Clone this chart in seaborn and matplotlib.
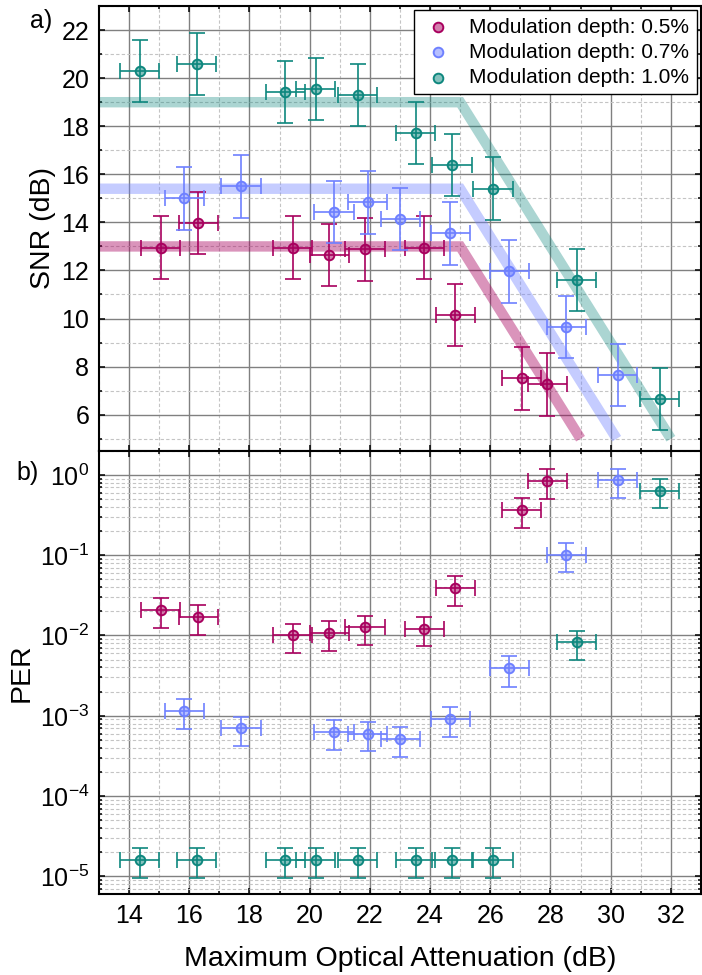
import numpy as np
import matplotlib
matplotlib.use("Agg")
import matplotlib.pyplot as plt
import matplotlib.ticker as mticker
from matplotlib.colors import to_rgba
import seaborn as sns

# data
att_05 = [15.05, 16.30, 19.44, 20.65, 21.84, 23.81, 24.84, 27.04, 27.90]
snr_05 = [12.95, 13.97, 12.95, 12.65, 12.88, 12.95, 10.15, 7.51, 7.26]
per_05 = [0.0209, 0.0170, 0.0100, 0.0108, 0.0126, 0.0121, 0.0393, 0.364, 0.835]
per_err_05 = [0.0084, 0.0068, 0.0040, 0.0043, 0.0050, 0.0048, 0.0157, 0.146, 0.33]

att_07 = [15.84, 17.72, 20.81, 21.93, 23.01, 24.67, 26.63, 28.52, 30.23]
snr_07 = [15.00, 15.50, 14.43, 14.83, 14.14, 13.54, 11.96, 9.64, 7.65]
per_07 = [1.15e-3, 7.0e-4, 6.3e-4, 6.0e-4, 5.2e-4, 9.1e-4, 3.9e-3, 0.101, 0.851]
per_err_07 = [4.6e-4, 2.8e-4, 2.5e-4, 2.4e-4, 2.1e-4, 3.6e-4, 1.6e-3, 0.040, 0.34]

att_10 = [14.36, 16.24, 19.19, 20.20, 21.60, 23.52, 24.73, 26.09, 28.87, 31.63]
snr_10 = [20.30, 20.58, 19.43, 19.54, 19.30, 17.71, 16.38, 15.40, 11.60, 6.65]
per_10 = [1.6e-5, 1.6e-5, 1.6e-5, 1.6e-5, 1.6e-5, 1.6e-5, 1.6e-5, 1.6e-5, 8.2e-3, 0.632]
per_err_10 = [6.4e-6, 6.4e-6, 6.4e-6, 6.4e-6, 6.4e-6, 6.4e-6, 6.4e-6, 6.4e-6, 3.3e-3, 0.25]

att_err = 0.65
snr_err = 1.3

# piecewise fits (flat, then -2 dB/dB)
fit_x_05 = [13.0, 25.0, 29.0]
fit_y_05 = [13.0, 13.0, 5.0]
fit_x_07 = [13.0, 25.0, 30.2]
fit_y_07 = [15.4, 15.4, 5.0]
fit_x_10 = [13.0, 25.0, 32.0]
fit_y_10 = [19.0, 19.0, 5.0]

labels = ["Modulation depth: 0.5%", "Modulation depth: 0.7%", "Modulation depth: 1.0%"]
colors = ["#a8005e", "#6e80ff", "#0e877e"]
fit_alpha = [0.42, 0.4, 0.35]

series = [
    (att_05, snr_05, per_05, per_err_05, fit_x_05, fit_y_05),
    (att_07, snr_07, per_07, per_err_07, fit_x_07, fit_y_07),
    (att_10, snr_10, per_10, per_err_10, fit_x_10, fit_y_10),
]

sns.set_style("ticks")
plt.rcParams.update({
    "font.family": ["Liberation Sans", "DejaVu Sans"],
    "mathtext.default": "regular",
    "axes.unicode_minus": False,
    "font.size": 18,
    "text.color": "black",
    "axes.labelcolor": "black",
    "xtick.color": "black",
    "ytick.color": "black",
})

fig = plt.figure(figsize=(7.02, 9.75), dpi=100)
ax1 = fig.add_axes([0.141, 0.5377, 0.8575, 0.4561])
ax2 = fig.add_axes([0.141, 0.0828, 0.8575, 0.4550])

for (att, snr, per, per_err, fx, fy), col, lab, fa in zip(series, colors, labels, fit_alpha):
    fill = to_rgba(col, 0.5)
    # fit line
    sns.lineplot(x=fx, y=fy, ax=ax1, color=col, alpha=fa, linewidth=7.5,
                 solid_capstyle="butt", solid_joinstyle="miter", legend=False,
                 sort=False, estimator=None, zorder=2)
    # SNR
    ax1.errorbar(att, snr, xerr=att_err, yerr=snr_err, fmt="none", ecolor=col,
                 elinewidth=1.2, capsize=5.5, capthick=1.2, zorder=3)
    sns.scatterplot(x=att, y=snr, ax=ax1, s=48, facecolor=fill, edgecolor=col,
                    linewidth=1.4, label=lab, zorder=4)
    # PER
    ax2.errorbar(att, per, xerr=att_err, yerr=per_err, fmt="none", ecolor=col,
                 elinewidth=1.2, capsize=5.5, capthick=1.2, zorder=3)
    sns.scatterplot(x=att, y=per, ax=ax2, s=48, facecolor=fill, edgecolor=col,
                    linewidth=1.4, zorder=4)

ax1.set_xlim(13, 33)
ax1.set_ylim(4.5, 23)
ax1.yaxis.set_major_locator(mticker.MultipleLocator(2))
ax1.yaxis.set_minor_locator(mticker.MultipleLocator(1))

ax2.set_yscale("log")
ax2.set_xlim(13, 33)
ax2.set_ylim(6e-6, 2)
ax2.yaxis.set_major_locator(mticker.LogLocator(base=10, numticks=10))
ax2.yaxis.set_minor_locator(mticker.LogLocator(base=10, subs=np.arange(2, 10), numticks=20))
ax2.yaxis.set_minor_formatter(mticker.NullFormatter())

for ax in (ax1, ax2):
    ax.xaxis.set_major_locator(mticker.MultipleLocator(2))
    ax.xaxis.set_minor_locator(mticker.MultipleLocator(1))
    ax.set_axisbelow(True)
    ax.grid(which="major", color="#808080", linewidth=1.0, linestyle="-")
    ax.grid(which="minor", color="#c4c4c4", linewidth=0.8, linestyle=(0, (3, 2)))
    ax.tick_params(which="both", direction="in", top=True, right=True,
                   width=1.1, colors="black", labelsize=18)
    ax.tick_params(which="major", length=4.5, pad=7)
    ax.tick_params(which="minor", length=2.3)
    for sp in ax.spines.values():
        sp.set_linewidth(1.5)
        sp.set_color("black")

ax1.tick_params(labelbottom=False)
ax1.set_xlabel("")
ax1.set_ylabel("SNR (dB)", fontsize=20.5)
ax2.set_ylabel("PER", fontsize=20.5)
ax2.set_xlabel("Maximum Optical Attenuation (dB)", fontsize=20.5, labelpad=13)

leg = ax1.legend(loc="upper right", fontsize=15, frameon=True, fancybox=False,
                 edgecolor="black", framealpha=1, borderaxespad=0.2,
                 borderpad=0.35, labelspacing=0.3, handletextpad=0.7,
                 scatterpoints=1, handlelength=1.6)
leg.get_frame().set_linewidth(1.0)

fig.text(0.043, 0.978, "a)", fontsize=18, va="center", ha="left")
fig.text(0.024, 0.515, "b)", fontsize=18, va="center", ha="left")

fig.savefig("out.png", dpi=100)
